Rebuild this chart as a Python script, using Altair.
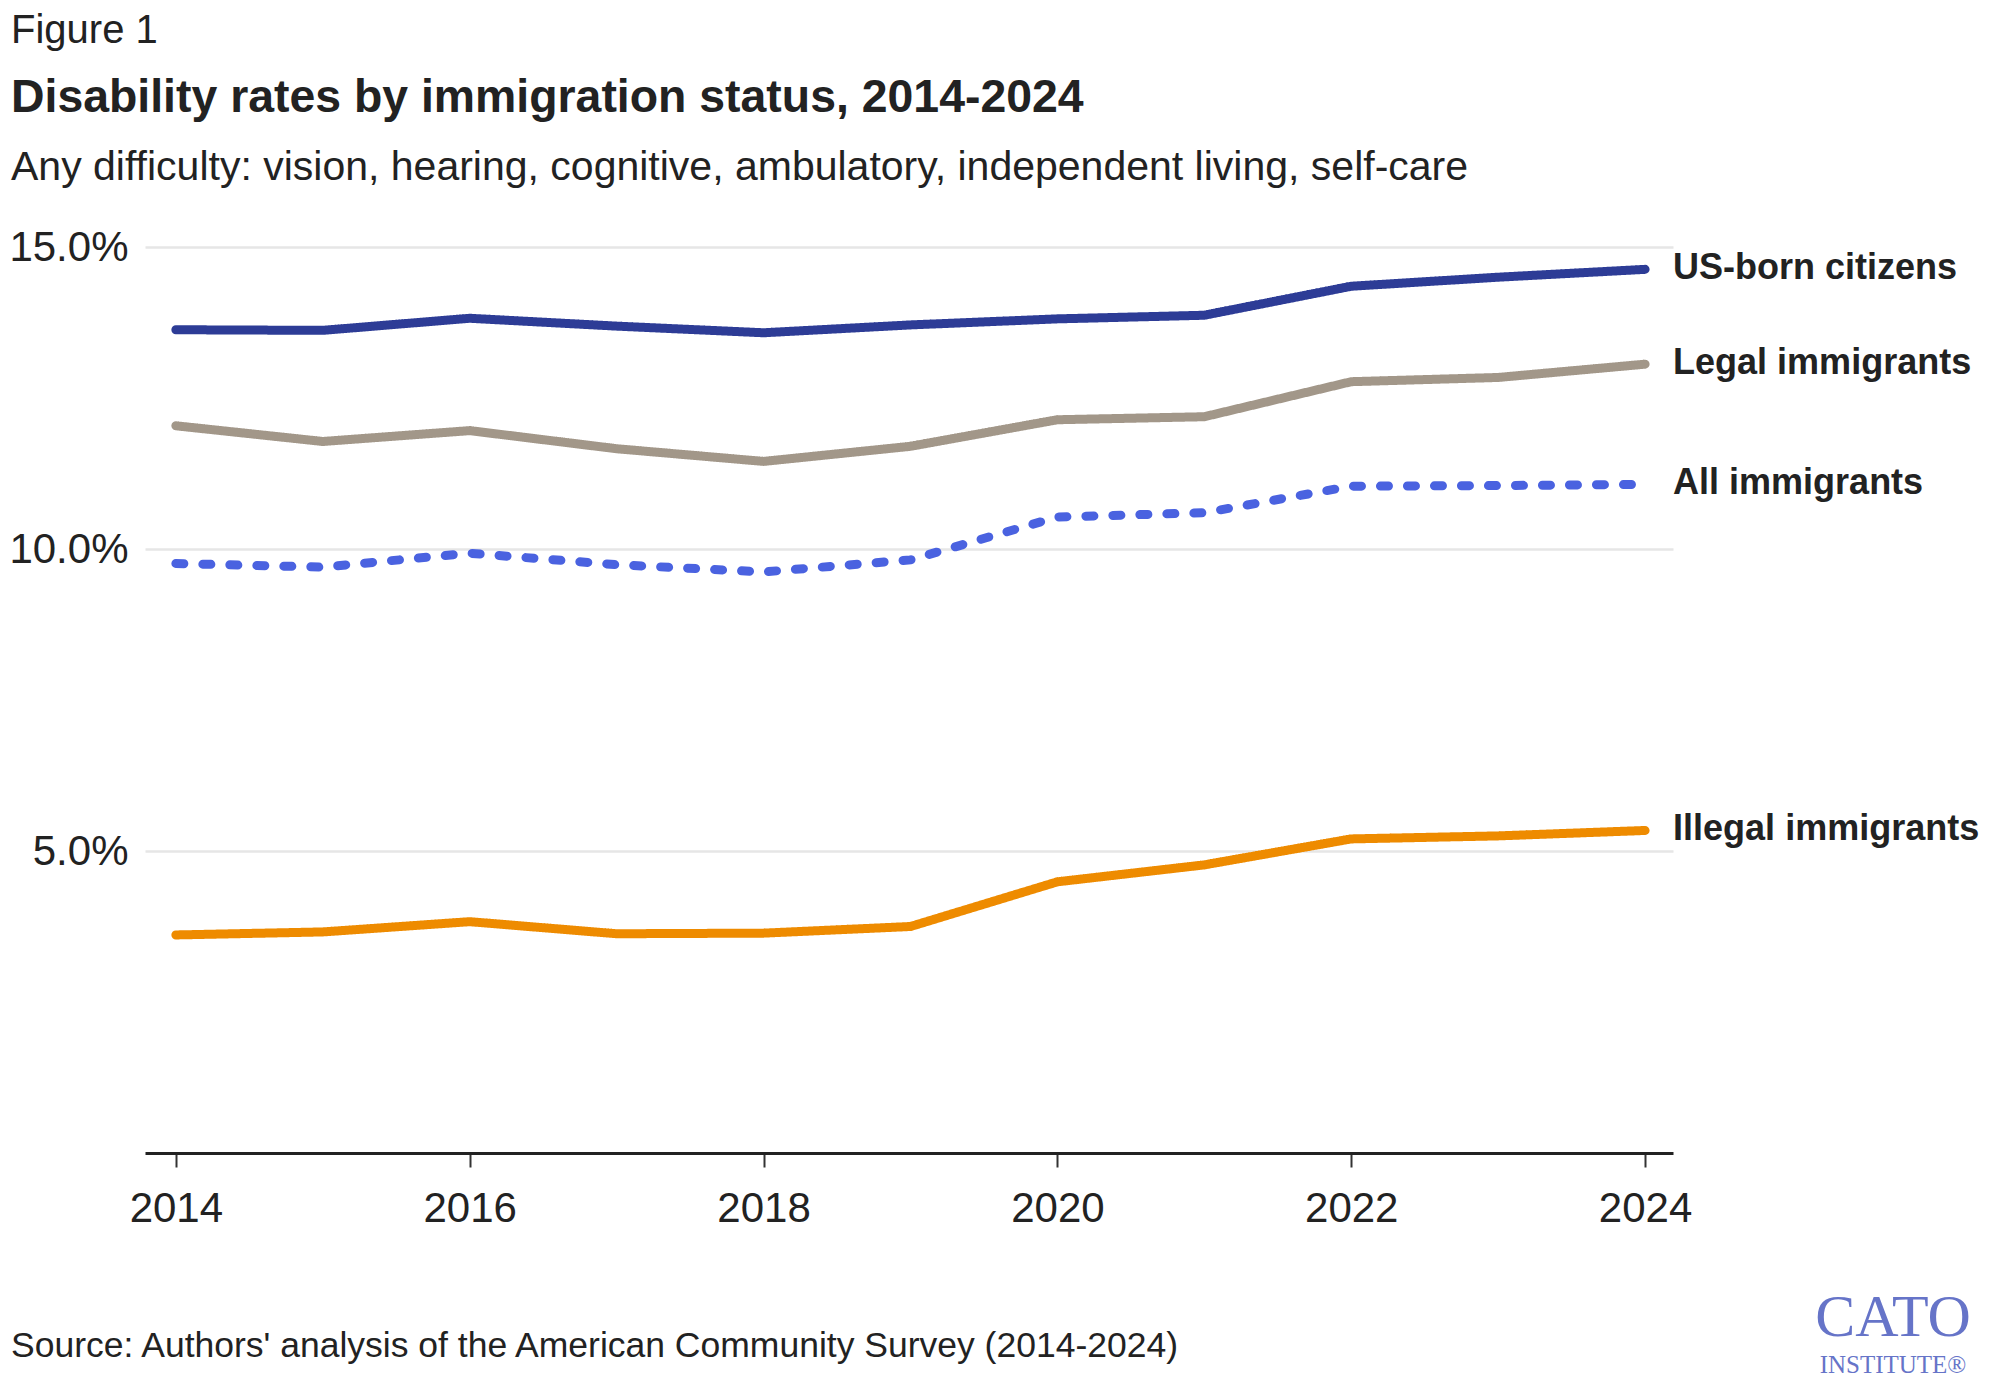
import altair as alt
import pandas as pd

years = [2014, 2015, 2016, 2017, 2018, 2019, 2020, 2021, 2022, 2023, 2024]
us_born = [13.63, 13.62, 13.82, 13.69, 13.58, 13.71, 13.81, 13.87, 14.35, 14.50, 14.63]
legal = [12.04, 11.78, 11.96, 11.66, 11.45, 11.70, 12.14, 12.19, 12.77, 12.84, 13.06]
all_imm = [9.76, 9.70, 9.93, 9.74, 9.62, 9.82, 10.53, 10.60, 11.04, 11.05, 11.07]
illegal = [3.61, 3.66, 3.83, 3.63, 3.64, 3.75, 4.49, 4.77, 5.20, 5.25, 5.34]

series_names = ["US-born citizens", "Legal immigrants", "All immigrants", "Illegal immigrants"]
series_colors = ["#2D3C96", "#A29789", "#4A62E0", "#EE8B00"]
x_ticks = [2014, 2016, 2018, 2020, 2022, 2024]
y_ticks = [5, 10, 15]

fig_label = "Figure 1"
title_text = "Disability rates by immigration status, 2014-2024"
subtitle_text = "Any difficulty: vision, hearing, cognitive, ambulatory, independent living, self-care"
source_text = "Source: Authors' analysis of the American Community Survey (2014-2024)"

rows = []
for name, vals in zip(series_names, [us_born, legal, all_imm, illegal]):
    for y, v in zip(years, vals):
        rows.append({"series": name, "year": y, "value": v})
df = pd.DataFrame(rows)

FONT = "Liberation Sans, Arial, sans-serif"
TXT = "#222222"

xscale = alt.Scale(domain=[2013.79, 2024.19], nice=False, zero=False)
yscale = alt.Scale(domain=[0, 15], nice=False)

base = alt.Chart(df)

lines = base.mark_line(strokeCap="round", clip=False).encode(
    x=alt.X("year:Q", scale=xscale,
            axis=alt.Axis(values=x_ticks, format="d", title=None, grid=False,
                          domainColor="#222222", domainWidth=3,
                          tickColor="#333333", tickWidth=2, tickSize=14,
                          labelFontSize=42, labelFont=FONT, labelColor=TXT,
                          labelPadding=21, labelFlush=False)),
    y=alt.Y("value:Q", scale=yscale,
            axis=alt.Axis(values=y_ticks, labelExpr="format(datum.value, '.1f') + '%'",
                          title=None, domain=False, ticks=False, grid=True,
                          gridColor="#E6E6E6", gridWidth=2.5,
                          labelFontSize=42, labelFont=FONT, labelColor=TXT,
                          labelPadding=17)),
    color=alt.Color("series:N", scale=alt.Scale(domain=series_names, range=series_colors), legend=None),
    strokeDash=alt.StrokeDash("series:N", scale=alt.Scale(domain=series_names,
                              range=[[1, 0], [1, 0], [8, 19], [1, 0]]), legend=None),
    strokeWidth=alt.StrokeWidth("series:N", scale=alt.Scale(domain=series_names,
                                range=[9, 9, 7, 9]), legend=None),
    detail="series:N",
)

end_labels = base.transform_filter(alt.datum.year == 2024).mark_text(
    align="left", baseline="middle", dx=28, dy=-1, font=FONT, fontSize=36,
    fontWeight="bold", color=TXT
).encode(x="year:Q", y="value:Q", text="series:N")

one = pd.DataFrame({"a": [0]})


def label(text, x, y, size, weight="normal", align="left", color=TXT, font=FONT):
    return alt.Chart(one).mark_text(
        align=align, baseline="alphabetic", fontSize=size, fontWeight=weight,
        font=font, color=color
    ).encode(x=alt.value(x), y=alt.value(y), text=alt.value(text))


fig = label(fig_label, -134, -204, 40)
ttl = label(title_text, -134, -135, 46.4, weight="bold")
sub = label(subtitle_text, -134, -67, 41)
src = label(source_text, -134, 1110, 35.5)
logo1 = label("CATO", 1748, 1089, 60, align="center", color="#6674C8", font="Liberation Serif, serif")
logo2 = label("INSTITUTE®", 1748, 1126, 25, align="center", color="#6674C8", font="Liberation Serif, serif")

chart = alt.layer(lines, end_labels, fig, ttl, sub, src, logo1, logo2).properties(
    width=1528, height=906,
    autosize=alt.AutoSizeParams(type="none"),
    padding={"left": 137, "top": 239, "right": 316, "bottom": 224},
    background="white",
).configure_view(stroke=None)

chart.save("out.html", embed_options={"renderer": "svg", "actions": False})
